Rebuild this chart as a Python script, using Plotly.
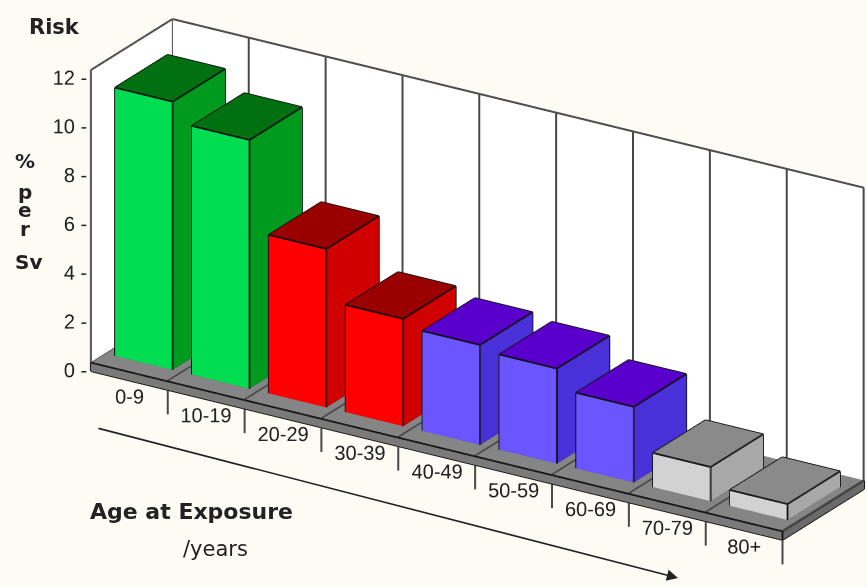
import plotly.graph_objects as go

categories = ["0-9", "10-19", "20-29", "30-39", "40-49", "50-59", "60-69", "70-79", "80+"]
risk = [11.0, 10.2, 6.5, 4.4, 4.1, 3.9, 3.1, 1.4, 0.65]
front_colors = ["#00DD50", "#00DD50", "#FF0000", "#FF0000", "#6A55FF", "#6A55FF", "#6A55FF", "#D2D2D2", "#D2D2D2"]
side_colors = ["#009A1E", "#009A1E", "#D00000", "#D00000", "#4A30D8", "#4A30D8", "#4A30D8", "#A8A8A8", "#A8A8A8"]
top_colors = ["#007010", "#007010", "#9A0000", "#9A0000", "#5A00CC", "#5A00CC", "#5A00CC", "#8A8A8A", "#8A8A8A"]
z_ticks = [0, 2, 4, 6, 8, 10, 12]

BAR_W = 0.75
BAR_D = 0.9
FLOOR_D = 1.4
FLOOR_T = 0.35
ZMAX = 12
nb = len(categories)
XL, XR = 0.5, nb + 0.5
YF, YB = -FLOOR_D / 2, FLOOR_D / 2

mx, my, mz, I, J, K, fc = [], [], [], [], [], [], []
ex, ey, ez = [], [], []


def add_box(x0, x1, y0, y1, z0, z1, c_front, c_side, c_top, edge_list):
    base = len(mx)
    corners = [(x0, y0, z0), (x1, y0, z0), (x1, y1, z0), (x0, y1, z0),
               (x0, y0, z1), (x1, y0, z1), (x1, y1, z1), (x0, y1, z1)]
    for (a, b, h) in corners:
        mx.append(a); my.append(b); mz.append(h)
    faces = [
        ((0, 1, 5), c_front), ((0, 5, 4), c_front),
        ((1, 2, 6), c_side), ((1, 6, 5), c_side),
        ((4, 5, 6), c_top), ((4, 6, 7), c_top),
        ((3, 2, 6), c_side), ((3, 6, 7), c_side),
        ((0, 3, 7), c_side), ((0, 7, 4), c_side),
        ((0, 1, 2), c_side), ((0, 2, 3), c_side),
    ]
    for (p, q, r), col in faces:
        I.append(base + p); J.append(base + q); K.append(base + r); fc.append(col)
    for a, b in edge_list:
        for idx in (a, b):
            ex.append(corners[idx][0]); ey.append(corners[idx][1]); ez.append(corners[idx][2])
        ex.append(None); ey.append(None); ez.append(None)


def add_quad(pts, col):
    base = len(mx)
    for (a, b, h) in pts:
        mx.append(a); my.append(b); mz.append(h)
    for (p, q, r) in [(0, 1, 2), (0, 2, 3)]:
        I.append(base + p); J.append(base + q); K.append(base + r); fc.append(col)


BOX_EDGES = [(0, 1), (1, 5), (5, 4), (4, 0), (1, 2), (2, 6), (6, 5), (6, 7), (7, 4)]

add_quad([(XL, YB, 0), (XR, YB, 0), (XR, YB, ZMAX), (XL, YB, ZMAX)], "#FFFFFF")
add_quad([(XL, YF, 0), (XL, YB, 0), (XL, YB, ZMAX), (XL, YF, ZMAX)], "#FFFFFF")
add_box(XL, XR, YF, YB, -FLOOR_T, 0, "#7A7A7A", "#6A6A6A", "#858585", BOX_EDGES)
for n, v in enumerate(risk):
    c = n + 1
    add_box(c - BAR_W / 2, c + BAR_W / 2, -BAR_D / 2, BAR_D / 2, 0, v,
            front_colors[n], side_colors[n], top_colors[n], BOX_EDGES)

mesh = go.Mesh3d(x=mx, y=my, z=mz, i=I, j=J, k=K, facecolor=fc, flatshading=True,
                 lighting=dict(ambient=1, diffuse=0, specular=0, roughness=1, fresnel=0),
                 hoverinfo="skip", showscale=False)
edges_tr = go.Scatter3d(x=ex, y=ey, z=ez, mode="lines", line=dict(color="#111111", width=3.5),
                        hoverinfo="skip", showlegend=False)

EPS = 0.01
gx, gy, gz = [], [], []
for b in range(nb + 1):
    xb = b + 0.5
    gx += [xb, xb, None]; gy += [YB - EPS, YB - EPS, None]; gz += [0, ZMAX, None]
    gx += [xb, xb, None]; gy += [YF, YB, None]; gz += [0.02, 0.02, None]
gx += [XL, XR, None]; gy += [YB, YB, None]; gz += [ZMAX, ZMAX, None]
gx += [XL, XL, None]; gy += [YF, YB, None]; gz += [ZMAX, ZMAX, None]
gx += [XL, XL, None]; gy += [YF, YF, None]; gz += [-FLOOR_T, ZMAX, None]
for b in range(1, nb + 1):
    gx += [b + 0.5, b + 0.5, None]; gy += [YF, YF, None]; gz += [-FLOOR_T, -1.35, None]
grid = go.Scatter3d(x=gx, y=gy, z=gz, mode="lines", line=dict(color="#484848", width=4),
                    hoverinfo="skip", showlegend=False)

FONT = "Liberation Sans, Arial"
xlabels = go.Scatter3d(x=list(range(1, nb + 1)), y=[YF] * nb, z=[-1.0] * nb,
                       mode="text", text=categories, textposition="middle center",
                       textfont=dict(family=FONT, size=20, color="#222"),
                       hoverinfo="skip", showlegend=False)
# z tick labels: anchored just right of the axis so the dash meets the axis line
LBL_DX, LBL_DZ = 0.2, -0.15
zlabels = go.Scatter3d(x=[XL + LBL_DX] * len(z_ticks), y=[YF] * len(z_ticks),
                       z=[t + LBL_DZ for t in z_ticks],
                       mode="text", text=["%d -" % t for t in z_ticks], textposition="middle left",
                       textfont=dict(family=FONT, size=20, color="#222"),
                       hoverinfo="skip", showlegend=False)

fig = go.Figure([mesh, edges_tr, grid, xlabels, zlabels])

S = 2.81
SHIFT = 0.15
rx, ry = 0.848, 0.53
hidden = dict(showspikes=False, title=dict(text=""), zeroline=False, showgrid=False,
              showticklabels=False, showbackground=False, showline=False, ticks="")
fig.update_layout(
    width=867, height=587,
    margin=dict(l=0, r=0, t=0, b=0),
    paper_bgcolor="#FDFBF3",
    showlegend=False,
    scene=dict(
        domain=dict(x=[0, 1], y=[0, 1]),
        xaxis=dict(range=[XL - 0.05, XR + 0.05], **hidden),
        yaxis=dict(range=[YF - 0.05, YB + 0.05], **hidden),
        zaxis=dict(range=[-1.6, ZMAX + 0.1], **hidden),
        aspectmode="manual",
        aspectratio=dict(x=1.0 * S, y=0.2 * S, z=0.44 * S),
        camera=dict(eye=dict(x=0.75 - SHIFT * rx, y=-1.2 - SHIFT * ry, z=0.6),
                    center=dict(x=-SHIFT * rx, y=-SHIFT * ry, z=0),
                    up=dict(x=0, y=0, z=1), projection=dict(type="orthographic")),
    ),
)


def px_ann(text, x, y, size, bold=True, family="DejaVu Sans"):
    fig.add_annotation(text=("<b>%s</b>" % text) if bold else text, x=x / 867, y=1 - y / 587,
                       xref="paper", yref="paper", xanchor="center", yanchor="middle",
                       showarrow=False, font=dict(family=family, size=size, color="#222"))


px_ann("Risk", 55, 27, 21)
for t, yy in [("%", 161), ("p", 192), ("e", 210), ("r", 229), ("Sv", 262)]:
    px_ann(t, 25 if t != "Sv" else 29, yy, 20)
px_ann("Age at Exposure", 191, 511, 22)
px_ann("/years", 215, 549, 21, bold=False)
fig.add_annotation(x=678 / 867, y=1 - 578 / 587, ax=97 - 678, ay=428 - 578,
                   xref="paper", yref="paper", axref="pixel", ayref="pixel", text="",
                   showarrow=True, arrowhead=2, arrowsize=1.4, arrowwidth=1.6, arrowcolor="#222")
fig.write_html("out.html")
